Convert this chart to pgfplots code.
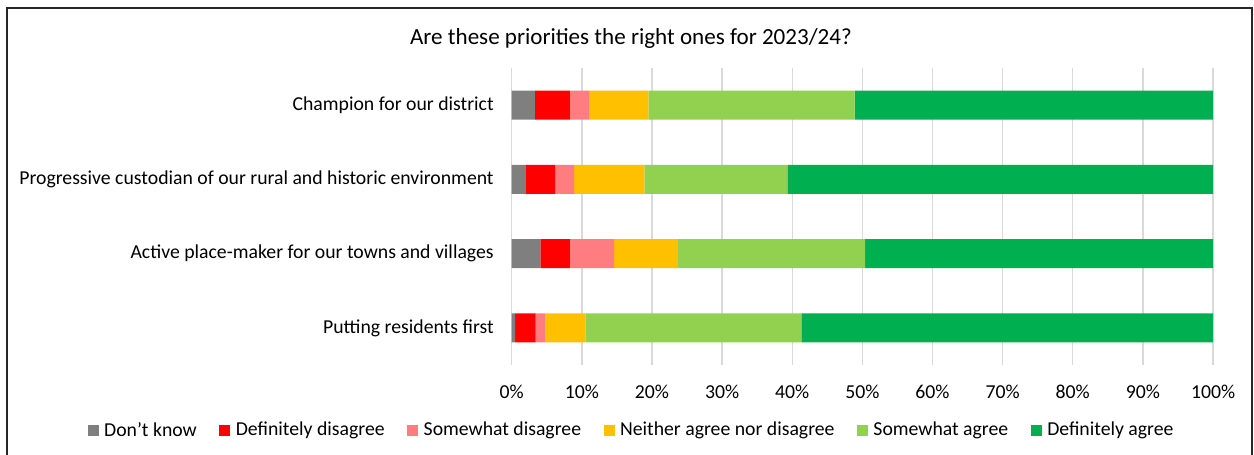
\documentclass[border=0pt]{standalone}
\usepackage{fontspec}
\setmainfont{Carlito}
\usepackage{pgfplots}
\pgfplotsset{compat=1.18}
\definecolor{cDK}{HTML}{7F7F7F}
\definecolor{cDD}{HTML}{FF0000}
\definecolor{cSD}{HTML}{FF7C80}
\definecolor{cNA}{HTML}{FFC000}
\definecolor{cSA}{HTML}{92D050}
\definecolor{cDA}{HTML}{00B050}
\definecolor{gridc}{HTML}{D9D9D9}
\begin{document}
\begin{tikzpicture}
\useasboundingbox (-383.8pt,-66.75pt) rectangle (556.7pt,273.75pt);
\begin{axis}[
  name=ax, at={(0,0)}, anchor=south west,
  scale only axis, width=526pt, height=222.75pt,
  xbar stacked, bar width=21.75pt,
  xmin=0, xmax=100, ymin=-0.5, ymax=3.5,
  xtick={0,10,...,100},
  xticklabel={\pgfmathprintnumber{\tick}\%},
  /pgf/number format/assume math mode=true,
  ytick={0,1,2,3},
  yticklabels={Putting residents first, Active place-maker for our towns and villages, Progressive custodian of our rural and historic environment, Champion for our district},
  font=\fontsize{14.8}{17}\selectfont,
  xticklabel style={anchor=base, yshift=-25pt},
  yticklabel style={xshift=-10pt},
  major tick length=0pt,
  axis line style={draw=none},
  xmajorgrids, grid style={gridc, line width=1pt},
  title={Are these priorities the right ones for 2023/24?},
  title style={at={(0.17,1.071)}, anchor=center, font=\fontsize{17.3}{20}\selectfont},
  legend columns=6,
  legend style={at={(0.1715,-0.219)}, anchor=center, draw=none, fill=none,
    font=\fontsize{14.8}{17}\selectfont,
    /tikz/every even column/.append style={column sep=15pt},
    /tikz/every odd column/.append style={column sep=2pt}},
  legend image code/.code={\fill[#1] (0pt,-4.1pt) rectangle (8.25pt,4.1pt);},
]
\addplot[fill=cDK, draw=none] coordinates {(0.5,0) (4.1,1) (2.0,2) (3.3,3)};
\addlegendentry{Don{\char39}t know}
\addplot[fill=cDD, draw=none] coordinates {(2.9,0) (4.2,1) (4.2,2) (5.0,3)};
\addlegendentry{Definitely disagree}
\addplot[fill=cSD, draw=none] coordinates {(1.4,0) (6.3,1) (2.7,2) (2.8,3)};
\addlegendentry{Somewhat disagree}
\addplot[fill=cNA, draw=none] coordinates {(5.7,0) (9.1,1) (10.0,2) (8.4,3)};
\addlegendentry{Neither agree nor disagree}
\addplot[fill=cSA, draw=none] coordinates {(30.8,0) (26.7,1) (20.4,2) (29.4,3)};
\addlegendentry{Somewhat agree}
\addplot[fill=cDA, draw=none] coordinates {(58.7,0) (49.6,1) (60.7,2) (51.1,3)};
\addlegendentry{Definitely agree}
\end{axis}
\draw[line width=1.5pt, black!85] (-378.5pt,-80pt) -- (-378.5pt,267.75pt) -- (555.2pt,267.75pt) -- (555.2pt,-80pt);
\end{tikzpicture}
\end{document}
